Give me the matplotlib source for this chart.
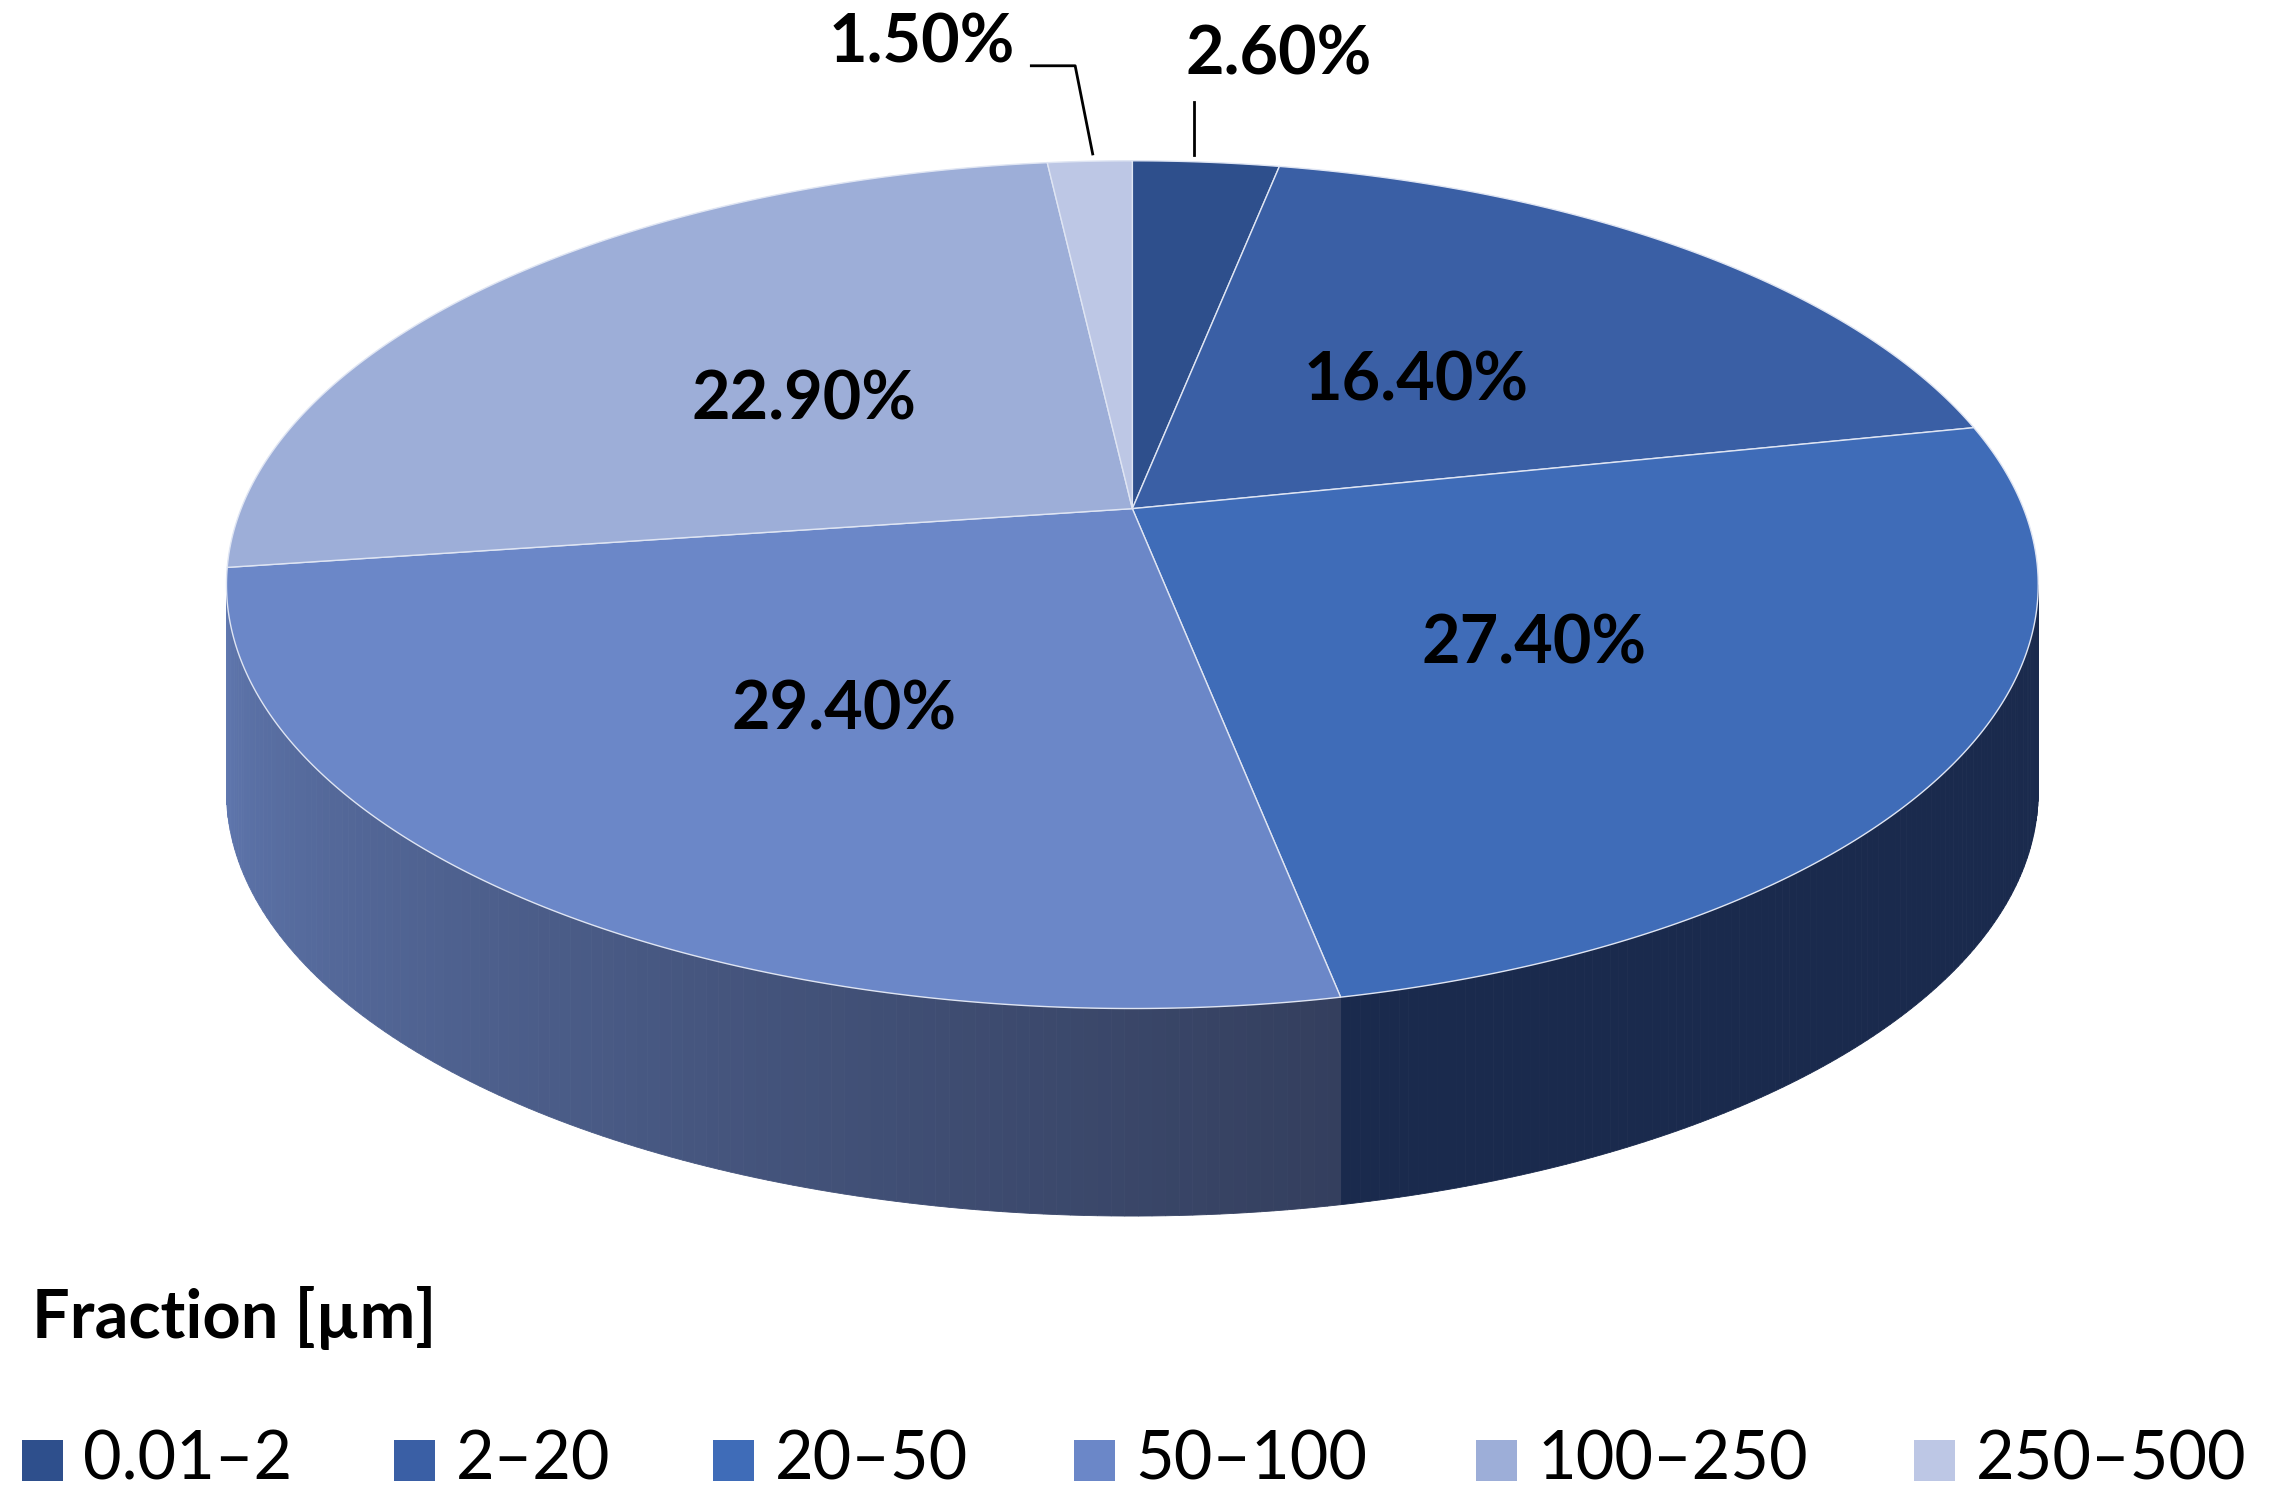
import numpy as np
import matplotlib
matplotlib.use("Agg")
import matplotlib.pyplot as plt
from matplotlib.patches import Polygon, Rectangle

categories = ["0.01–2", "2–20", "20–50", "50–100", "100–250", "250–500"]
values = [2.6, 16.4, 27.4, 29.4, 22.9, 1.5]
labels = ["2.60%", "16.40%", "27.40%", "29.40%", "22.90%", "1.50%"]
colors = ["#2e4f8c", "#3a5fa5", "#3f6cb8", "#6b87c8", "#9daed8", "#bdc7e5"]
side_dark = ["#1a2a4d", "#1a2a4d", "#1a2a4d", "#343f5e", "#343f5e", "#343f5e"]
side_light = ["#1a2a4d", "#1a2a4d", "#1a2a4d", "#6078b0", "#6078b0", "#6078b0"]

W, H = 1568, 1029
fig = plt.figure(figsize=(22.91, 15.04), dpi=100)
ax = fig.add_axes([0, 0, 1, 1])
ax.set_xlim(0, W); ax.set_ylim(H, 0); ax.axis("off")

cx, cy, rx, ry, depth = 775, 400, 620, 290, 142
apx, apy = 775, 348

def rim(t, d=0):
    return cx + rx*np.sin(t), cy - ry*np.cos(t) + d

frac = np.cumsum([0] + values) / sum(values) * 2*np.pi
font = "Lato"
fs = 48

for i in range(len(values)):
    a0, a1 = max(frac[i], np.pi/2), min(frac[i+1], 3*np.pi/2)
    if a1 <= a0:
        continue
    n = 120
    ts = np.linspace(a0, a1, n+1)
    c0 = np.array(matplotlib.colors.to_rgb(side_light[i]))
    c1 = np.array(matplotlib.colors.to_rgb(side_dark[i]))
    span = (3*np.pi/2 - a0)
    for k in range(n):
        t0, t1 = ts[k], ts[k+1]
        s = (t0 - a0) / (a1 - a0)
        col = c1 + (c0 - c1)*s
        p = [rim(t0), rim(t1), rim(t1, depth), rim(t0, depth)]
        ax.add_patch(Polygon(p, closed=True, fc=col, ec=col, lw=0.6))

for i in range(len(values)):
    ts = np.linspace(frac[i], frac[i+1], 200)
    pts = [(apx, apy)] + [rim(t) for t in ts]
    ax.add_patch(Polygon(pts, closed=True, fc=colors[i], ec="#dfe5f3", lw=1.0))

for i in range(len(values)):
    mid = (frac[i] + frac[i+1]) / 2
    rxp, ryp = rim(mid)
    if values[i] > 5:
        f = 0.5
        x = apx + f*(rxp-apx); y = apy + f*(ryp-apy)
        ax.text(x, y, labels[i], ha="center", va="center", fontsize=fs,
                fontweight="bold", family=font, color="black")
    else:
        if mid < np.pi:
            ax.plot([rxp-8, rxp-8], [ryp-5, 70], color="black", lw=2)
            ax.text(rxp+50, 38, labels[i], ha="center", va="center", fontsize=fs,
                    fontweight="bold", family=font)
        else:
            ax.plot([rxp+2, rxp-10, rxp-40], [ryp-5, 45, 45], color="black", lw=2)
            ax.text(rxp-115, 30, labels[i], ha="center", va="center", fontsize=fs,
                    fontweight="bold", family=font)

ax.text(22, 902, "Fraction [µm]", ha="left", va="center", fontsize=fs,
        fontweight="bold", family=font)
xs = [15, 270, 488, 735, 1010, 1310]
for x, c, lab in zip(xs, colors, categories):
    ax.add_patch(Rectangle((x, 985), 28, 28, fc=c, ec="none"))
    ax.text(x+42, 999, lab, ha="left", va="center", fontsize=fs, family=font)

fig.savefig("out.png", dpi=100)
